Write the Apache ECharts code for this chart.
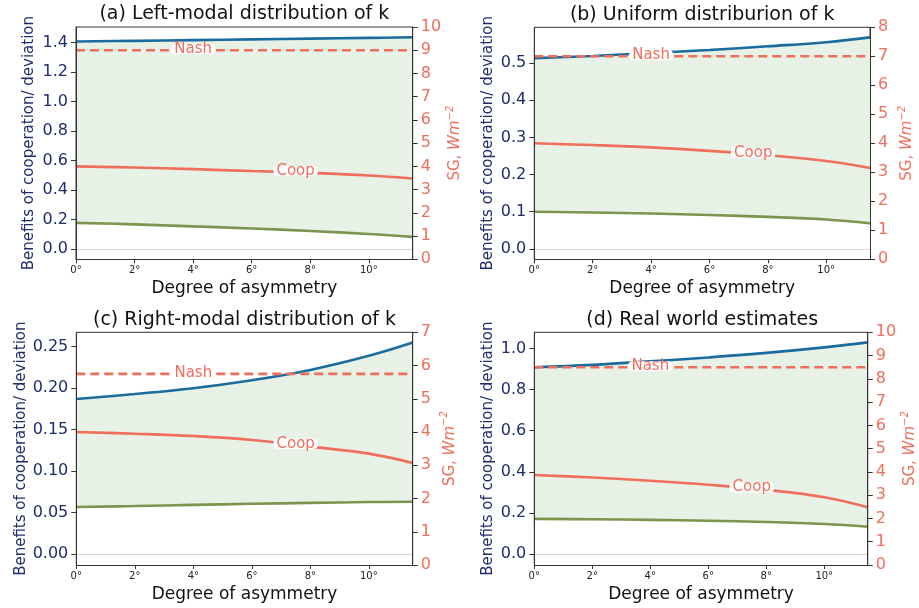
<!DOCTYPE html>
<html><head><meta charset="utf-8">
<script src="https://cdn.jsdelivr.net/npm/echarts@6/dist/echarts.min.js"></script>
<style>html,body{margin:0;padding:0;background:#fff}#c{width:919px;height:608px}</style>
</head><body><div id="c"></div>
<script>
// ---------- data ----------
const degrees = [0, 2, 4, 6, 8, 10, 11.5];
const xTicks = [0, 2, 4, 6, 8, 10];
const titles = ['(a) Left-modal distribution of k', '(b) Uniform distriburion of k',
                '(c) Right-modal distribution of k', '(d) Real world estimates'];

const blueA  = [1.407, 1.411, 1.416, 1.421, 1.426, 1.431, 1.436];
const greenA = [0.177, 0.167, 0.153, 0.139, 0.122, 0.102, 0.082];
const coopA  = [4.00, 3.95, 3.88, 3.80, 3.72, 3.61, 3.48];

const blueB  = [0.513, 0.519, 0.527, 0.535, 0.545, 0.556, 0.569];
const greenB = [0.100, 0.098, 0.095, 0.091, 0.086, 0.079, 0.069];
const coopB  = [4.00, 3.94, 3.86, 3.74, 3.59, 3.39, 3.15];

const blueC  = [0.187, 0.193, 0.200, 0.2096, 0.222, 0.239, 0.255];
const greenC = [0.0568, 0.0580, 0.0594, 0.0607, 0.0618, 0.0628, 0.0632];
const coopC  = [4.00, 3.95, 3.88, 3.76, 3.56, 3.35, 3.07];

const blueD  = [0.908, 0.920, 0.937, 0.956, 0.978, 1.005, 1.029];
const greenD = [0.172, 0.170, 0.167, 0.163, 0.157, 0.147, 0.134];
const coopD  = [3.87, 3.76, 3.62, 3.45, 3.23, 2.91, 2.48];

const nashVals = [9.0, 7.0, 5.75, 8.5];
const nashLabelX = 4;
const coopLabelX = 7.5;
const coopLabelVals = [3.76, 3.63, 3.62, 3.29];

const leftTicksA = [0.0, 0.2, 0.4, 0.6, 0.8, 1.0, 1.2, 1.4];
const leftTicksB = [0.0, 0.1, 0.2, 0.3, 0.4, 0.5];
const leftTicksC = [0.00, 0.05, 0.10, 0.15, 0.20, 0.25];
const leftTicksD = [0.0, 0.2, 0.4, 0.6, 0.8, 1.0];
const leftDecimals = [1, 1, 2, 1];
const rightMax = [10, 8, 7, 10];

// ---------- layout / style ----------
const panels = [
  {blue: blueA, green: greenA, coop: coopA, ticks: leftTicksA, lmin: -0.070, lmax: 1.505,
   grid: {left: 76, top: 27, width: 336.7, height: 232.3}},
  {blue: blueB, green: greenB, coop: coopB, ticks: leftTicksB, lmin: -0.028, lmax: 0.596,
   grid: {left: 534.3, top: 27.3, width: 335.7, height: 232}},
  {blue: blueC, green: greenC, coop: coopC, ticks: leftTicksC, lmin: -0.013, lmax: 0.2673,
   grid: {left: 76.3, top: 332.3, width: 336.4, height: 232.7}},
  {blue: blueD, green: greenD, coop: coopD, ticks: leftTicksD, lmin: -0.052, lmax: 1.078,
   grid: {left: 534.3, top: 332.3, width: 335.7, height: 232.7}}
];
const NAVY = '#1f2c6c', SALMON = '#f06e5c', BLUE = '#1a6c9e', GREEN = '#7c954e',
      FILL = '#e7f1e6', FRAME = '#333333', FONT = 'DejaVu Sans';

const grid = [], xAxis = [], yAxis = [], series = [], title = [];
function pairs(ys) { return degrees.map((x, i) => [x, ys[i]]); }

panels.forEach((p, k) => {
  grid.push(Object.assign({show: true, borderColor: FRAME, borderWidth: 1, backgroundColor: 'transparent', z: 0}, p.grid));
  title.push({text: titles[k], left: p.grid.left + p.grid.width / 2, top: p.grid.top - 22, textAlign: 'center', padding: 0,
    textStyle: {fontFamily: FONT, fontSize: 19, fontWeight: 'normal', color: '#111'}});
  xAxis.push({type: 'value', gridIndex: k, min: 0, max: 11.5, z: 10,
    name: 'Degree of asymmetry', nameLocation: 'middle', nameGap: 21,
    nameTextStyle: {fontFamily: FONT, fontSize: 17, color: '#111'},
    axisLine: {show: true, onZero: false, lineStyle: {color: FRAME}},
    axisTick: {show: true, length: 4, customValues: xTicks, lineStyle: {color: FRAME}},
    axisLabel: {customValues: xTicks, formatter: v => v + '°', fontFamily: FONT, fontSize: 10, color: '#222', margin: 6},
    splitLine: {show: false}});
  const dec = leftDecimals[k];
  yAxis.push({type: 'value', gridIndex: k, position: 'left', min: p.lmin, max: p.lmax, z: 10,
    name: 'Benefits of cooperation/ deviation', nameLocation: 'middle', nameGap: 39, nameRotate: 90,
    nameTextStyle: {fontFamily: FONT, fontSize: 15, color: NAVY},
    axisLine: {show: true, onZero: false, lineStyle: {color: FRAME}},
    axisTick: {show: true, length: 5, customValues: p.ticks, lineStyle: {color: FRAME}},
    axisLabel: {customValues: p.ticks, formatter: v => v.toFixed(dec), fontFamily: FONT, fontSize: 16, color: NAVY, margin: 8},
    splitLine: {show: false}});
  yAxis.push({type: 'value', gridIndex: k, position: 'right', min: 0, max: rightMax[k], interval: 1, z: 10,
    name: '{n|SG, }{i|Wm}{s|−2}', nameLocation: 'middle', nameGap: 27, nameRotate: 90,
    nameTextStyle: {fontFamily: FONT, fontSize: 15, color: SALMON,
      rich: {n: {fontFamily: FONT, fontSize: 15, color: SALMON, lineHeight: 20},
             i: {fontFamily: FONT, fontSize: 15, fontStyle: 'italic', color: SALMON, lineHeight: 20},
             s: {fontFamily: FONT, fontSize: 10, fontStyle: 'italic', color: SALMON, verticalAlign: 'top', lineHeight: 20, padding: [0, 0, 8, 0]}}},
    axisLine: {show: true, onZero: false, lineStyle: {color: FRAME}},
    axisTick: {show: true, length: 5, lineStyle: {color: FRAME}},
    axisLabel: {fontFamily: FONT, fontSize: 16, color: SALMON, margin: 8},
    splitLine: {show: false}});
  const L = 2 * k, R = 2 * k + 1;
  // band fill: blue area down to axis bottom, then white area under the green curve
  series.push({type: 'line', xAxisIndex: k, yAxisIndex: L, data: pairs(p.blue), smooth: 0.4,
    symbol: 'none', lineStyle: {width: 0, opacity: 0}, areaStyle: {color: FILL, opacity: 1, origin: 'start'}, silent: true, z: 1});
  series.push({type: 'line', xAxisIndex: k, yAxisIndex: L, data: pairs(p.green), smooth: 0.4,
    symbol: 'none', lineStyle: {width: 0, opacity: 0}, areaStyle: {color: '#ffffff', opacity: 1, origin: 'start'}, silent: true, z: 1.5});
  series.push({type: 'line', xAxisIndex: k, yAxisIndex: L, data: pairs(p.green), smooth: 0.4, symbol: 'none',
    lineStyle: {color: GREEN, width: 2.6}, z: 3,
    markLine: {silent: true, symbol: ['none', 'none'], label: {show: false}, animation: false,
      lineStyle: {color: '#d8d8d0', width: 1, type: 'solid'}, data: [{yAxis: 0}]}});
  series.push({type: 'line', xAxisIndex: k, yAxisIndex: L, data: pairs(p.blue), smooth: 0.4, symbol: 'none',
    lineStyle: {color: BLUE, width: 2.6}, z: 3});
  series.push({type: 'line', xAxisIndex: k, yAxisIndex: R, data: pairs(p.coop), smooth: 0.4, symbol: 'none',
    lineStyle: {color: SALMON, width: 2.6}, z: 4});
  series.push({type: 'line', xAxisIndex: k, yAxisIndex: R,
    data: [[degrees[0], nashVals[k]], [degrees[degrees.length - 1], nashVals[k]]], symbol: 'none',
    lineStyle: {color: SALMON, width: 2.6, type: [9, 5]}, z: 4});
  series.push({type: 'scatter', xAxisIndex: k, yAxisIndex: R, symbolSize: 0, z: 6, silent: true,
    itemStyle: {opacity: 1}, emphasis: {disabled: true},
    data: [{name: 'Nash', value: [nashLabelX, nashVals[k]]}, {name: 'Coop', value: [coopLabelX, coopLabelVals[k]]}],
    label: {show: true, position: 'inside', formatter: '{b}', fontFamily: FONT, fontSize: 15, color: SALMON,
      textBorderWidth: 0, backgroundColor: '#fff', borderRadius: 4, lineHeight: 10, padding: [0, 3], offset: [0, -1]}});
});

const chart = echarts.init(document.getElementById('c'), null, {renderer: 'canvas'});
chart.setOption({animation: false, backgroundColor: '#fff', title, grid, xAxis, yAxis, series});
</script></body></html>
